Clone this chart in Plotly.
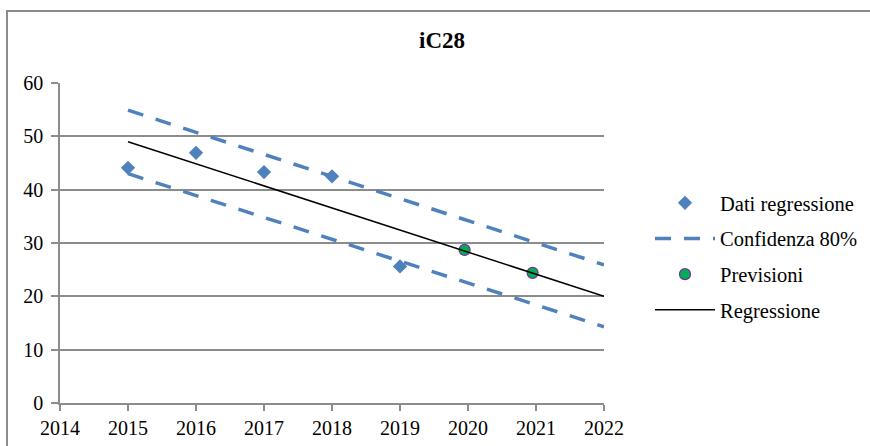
import plotly.graph_objects as go

# Data
years_data = [2015, 2016, 2017, 2018, 2019]
values_data = [44.1, 46.9, 43.3, 42.5, 25.6]

years_forecast = [2019.95, 2020.95]
values_forecast = [28.7, 24.4]

years_line = [2015, 2022]
values_regression = [49.0, 20.0]
values_upper = [54.9, 25.9]
values_lower = [43.0, 14.3]

x_ticks = [2014, 2015, 2016, 2017, 2018, 2019, 2020, 2021, 2022]
y_ticks = [0, 10, 20, 30, 40, 50, 60]

BLUE = "#4F81BD"
GRID = "#8C8C8C"
FONT = "Liberation Serif"

W, H = 870, 446
L, R, T, B = 60, 266, 83, 43
PW, PH = W - L - R, H - T - B

fig = go.Figure()

fig.add_trace(go.Scatter(
    x=years_data, y=values_data, mode="markers", name="Dati regressione",
    marker=dict(symbol="diamond", size=11, color=BLUE, line=dict(width=0)),
    legendgroup="a",
))
fig.add_trace(go.Scatter(
    x=years_line, y=values_upper, mode="lines", name="Confidenza 80%",
    line=dict(color=BLUE, width=3.5, dash="16px,13px"),
    legendgroup="b",
))
fig.add_trace(go.Scatter(
    x=years_line, y=values_lower, mode="lines", name="Confidenza 80%",
    line=dict(color=BLUE, width=3.5, dash="16px,13px"),
    legendgroup="b", showlegend=False,
))
fig.add_trace(go.Scatter(
    x=years_forecast, y=values_forecast, mode="markers", name="Previsioni",
    marker=dict(symbol="circle", size=11, color="#00B050",
                line=dict(width=1.2, color="#7030A0")),
    legendgroup="c",
))
fig.add_trace(go.Scatter(
    x=years_line, y=values_regression, mode="lines", name="Regressione",
    line=dict(color="black", width=1.5),
    legendgroup="d",
))

def px_x(p):
    return (p - L) / PW

def px_y(p):
    return (H - B - p) / PH

fig.update_layout(
    width=W, height=H,
    margin=dict(l=L, r=R, t=T, b=B),
    paper_bgcolor="white", plot_bgcolor="white",
    font=dict(family=FONT, size=20, color="black"),
    title=dict(text="<b>iC28</b>", xref="container", x=442 / W, xanchor="center",
               yref="container", y=1 - 40 / H, yanchor="middle",
               font=dict(family=FONT, size=23, color="black")),
    xaxis=dict(range=[2014, 2022], tickvals=x_ticks, ticktext=[str(v) for v in x_ticks],
               showgrid=False, zeroline=False, showline=True, linecolor=GRID, linewidth=1.5,
               ticks="outside", ticklen=6, tickcolor=GRID, tickwidth=1.5, automargin=False,
               tickfont=dict(family=FONT, size=20, color="black")),
    yaxis=dict(range=[0, 60], tickvals=y_ticks, showgrid=True, gridcolor=GRID, gridwidth=1.5,
               zeroline=False, showline=True, linecolor=GRID, linewidth=1.5,
               ticks="outside", ticklen=7, tickcolor=GRID, tickwidth=1.5,
               ticklabelstandoff=4, automargin=False,
               tickfont=dict(family=FONT, size=20, color="black")),
    legend=dict(xref="container", yref="container",
                x=650 / W, xanchor="left", y=1 - 183 / H, yanchor="top",
                font=dict(family=FONT, size=20.5, color="black"),
                tracegroupgap=6, itemwidth=60, bgcolor="rgba(0,0,0,0)"),
    showlegend=True,
)

# chart frame (left and top border)
fig.add_shape(type="line", xref="paper", yref="paper",
              x0=px_x(7), y0=px_y(446), x1=px_x(7), y1=px_y(11),
              line=dict(color=GRID, width=2))
fig.add_shape(type="line", xref="paper", yref="paper",
              x0=px_x(6), y0=px_y(11), x1=px_x(870), y1=px_y(11),
              line=dict(color=GRID, width=2))

fig.write_html("out.html")
